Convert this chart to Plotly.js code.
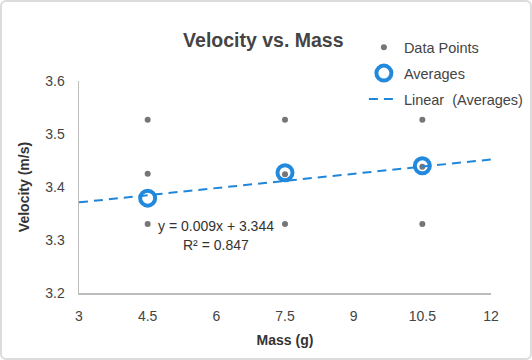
<!DOCTYPE html>
<html><head><meta charset="utf-8">
<script src="https://cdn.plot.ly/plotly-3.0.1.min.js"></script>
<style>
html,body{margin:0;padding:0;background:#fff;}
#plot{position:absolute;left:0;top:0;width:532px;height:360px;}
#frame{position:absolute;left:0;top:0;width:528px;height:356px;border:2px solid #dcdcdc;border-radius:6px;pointer-events:none;}
</style></head>
<body>
<div id="plot"></div><div id="frame"></div>
<script>
const pointMass = [4.5, 4.5, 4.5, 7.5, 7.5, 7.5, 10.5, 10.5, 10.5];
const pointVelocity = [3.527, 3.425, 3.330, 3.527, 3.424, 3.330, 3.527, 3.438, 3.330];
const avgMass = [4.5, 7.5, 10.5];
const avgVelocity = [3.379, 3.427, 3.440];
const trendMass = [3, 12];
const trendVelocity = [3.371, 3.452];
const xTicks = [3, 4.5, 6, 7.5, 9, 10.5, 12];
const yTicks = [3.2, 3.3, 3.4, 3.5, 3.6];
const eqText = "y = 0.009x + 3.344";
const r2Text = "R² = 0.847";

const font = "Liberation Sans, Arial, Helvetica, sans-serif";
const traces = [
  {x: pointMass, y: pointVelocity, type: 'scatter', mode: 'markers', name: 'Data Points',
   legendgroup: 'a', marker: {color: '#767676', size: 6}},
  {x: avgMass, y: avgVelocity, type: 'scatter', mode: 'markers', name: 'Averages',
   legendgroup: 'b', marker: {symbol: 'circle-open', color: '#2289dd', size: 15, line: {width: 4, color: '#2289dd'}}},
  {x: trendMass, y: trendVelocity, type: 'scatter', mode: 'lines', name: 'Linear  (Averages)',
   legendgroup: 'c', line: {color: '#1f86d9', width: 2, dash: '9px,6px'}}
];
const layout = {
  width: 532, height: 360,
  margin: {l: 79, r: 41, t: 81, b: 67, autoexpand: false},
  paper_bgcolor: '#fff', plot_bgcolor: '#fff',
  font: {family: font, color: '#444', size: 14},
  title: {text: '<b>Velocity vs. Mass</b>', font: {size: 19.5, color: '#444'}, x: 0.495, xanchor: 'center', y: 0.888, yanchor: 'middle'},
  xaxis: {range: [3, 12], tickvals: xTicks, ticktext: xTicks.map(String), showgrid: false, zeroline: false,
    showline: true, linecolor: '#bdbdbd', linewidth: 1.5, ticks: '', ticklabelstandoff: 10,
    tickfont: {size: 14, color: '#444'},
    title: {text: '<b>Mass (g)</b>', font: {size: 14, color: '#333'}, standoff: 12}},
  yaxis: {range: [3.2, 3.6], tickvals: yTicks, ticktext: yTicks.map(v => v.toFixed(1)), showgrid: false, zeroline: false,
    showline: true, linecolor: '#bdbdbd', linewidth: 1.5, ticks: '', ticklabelstandoff: 10,
    tickfont: {size: 14, color: '#444'},
    title: {text: '<b>Velocity (m/s)</b>', font: {size: 14, color: '#333'}, standoff: 12}},
  showlegend: true,
  legend: {x: 0.684, y: 0.913, xanchor: 'left', yanchor: 'top', xref: 'container', yref: 'container',
    bgcolor: 'rgba(0,0,0,0)', font: {size: 14.5, color: '#444'}, traceorder: 'grouped', tracegroupgap: 4, itemwidth: 30},
  annotations: [
    {x: 6, y: 3.326, xref: 'x', yref: 'y', text: eqText, showarrow: false, font: {size: 14, color: '#333'}, xanchor: 'center', yanchor: 'middle'},
    {x: 6, y: 3.291, xref: 'x', yref: 'y', text: r2Text, showarrow: false, font: {size: 14, color: '#333'}, xanchor: 'center', yanchor: 'middle'}
  ]
};
Plotly.newPlot('plot', traces, layout, {displayModeBar: false, staticPlot: true});
</script>
</body></html>
